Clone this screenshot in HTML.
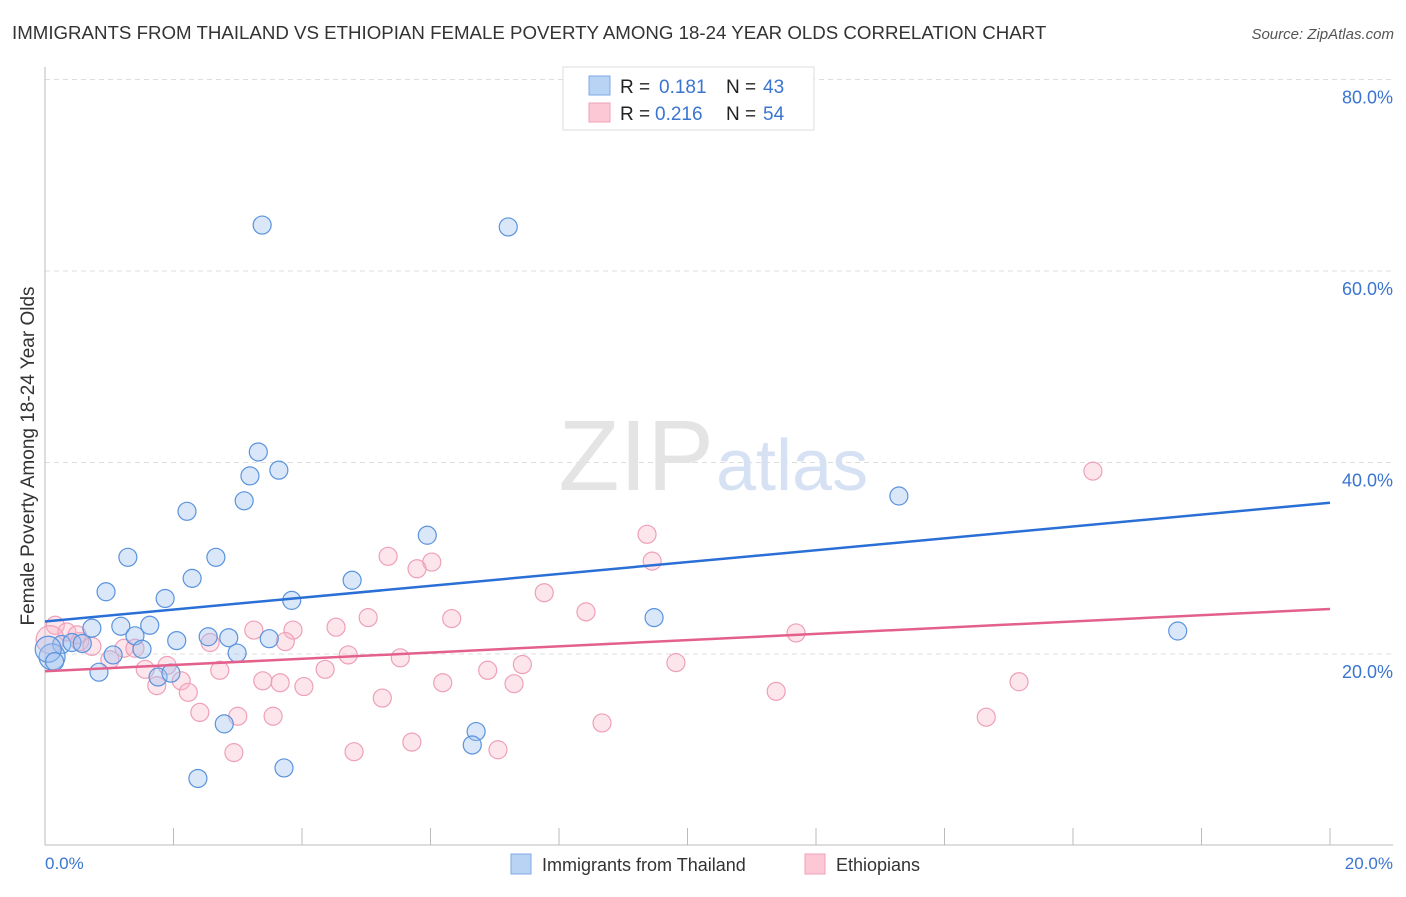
<!DOCTYPE html>
<html><head><meta charset="utf-8">
<style>
body{margin:0;background:#fff;font-family:"Liberation Sans",sans-serif;}
svg text{font-family:"Liberation Sans",sans-serif;}
</style></head>
<body>
<svg id="chart" width="1406" height="892" xmlns="http://www.w3.org/2000/svg">
<text x="12" y="39" font-size="18.7" fill="#333">IMMIGRANTS FROM THAILAND VS ETHIOPIAN FEMALE POVERTY AMONG 18-24 YEAR OLDS CORRELATION CHART</text>
<text x="1394" y="39" font-size="15" fill="#555" font-style="italic" text-anchor="end">Source: ZipAtlas.com</text>
<g id="grid"></g>
<text x="714" y="490" font-size="100" fill="#e4e4e4" text-anchor="end" font-family="Liberation Serif">ZIP</text>
<text x="716" y="490" font-size="72" fill="#d6e2f4">atlas</text>
<line x1="45" y1="67" x2="45" y2="845" stroke="#bbb"/>
<line x1="45" y1="845" x2="1393" y2="845" stroke="#bbb"/>
<g id="ticks"></g>
<g id="pts"></g>
<g id="lines"></g>
<text x="34" y="456" font-size="19" fill="#333" text-anchor="middle" transform="rotate(-90 34 456)">Female Poverty Among 18-24 Year Olds</text>
<text x="45" y="869" font-size="17" fill="#3a75d0">0.0%</text>
<text x="1393" y="869" font-size="17" fill="#3a75d0" text-anchor="end">20.0%</text>
<g>
<rect x="563" y="67" width="251" height="63" fill="#fff" stroke="#ddd"/>
<rect x="589" y="76" width="21" height="19" fill="#b9d3f5" stroke="#7eaae6"/>
<rect x="589" y="103" width="21" height="19" fill="#fcc8d6" stroke="#f0a0b8"/>
<text x="620" y="93" font-size="19" fill="#222">R = </text><text x="659" y="93" font-size="19" fill="#3a75d0">0.181</text>
<text x="726" y="93" font-size="19" fill="#222">N = </text><text x="763" y="93" font-size="19" fill="#3a75d0">43</text>
<text x="620" y="120" font-size="19" fill="#222">R = </text><text x="655" y="120" font-size="19" fill="#3a75d0">0.216</text>
<text x="726" y="120" font-size="19" fill="#222">N = </text><text x="763" y="120" font-size="19" fill="#3a75d0">54</text>
</g>
<g>
<rect x="511" y="854" width="20" height="20" fill="#b9d3f5" stroke="#7eaae6"/>
<text x="542" y="871" font-size="18" fill="#333">Immigrants from Thailand</text>
<rect x="805" y="854" width="20" height="20" fill="#fcc8d6" stroke="#f0a0b8"/>
<text x="836" y="871" font-size="18" fill="#333">Ethiopians</text>
</g>
</svg>
<script>
const yTicks=[20,40,60,80];
const blueX=[3.38,7.21,3.32,3.19,3.64,3.10,2.21,13.29,1.29,2.66,5.95,2.29,4.78,0.95,1.87,3.84,9.48,0.73,1.18,1.63,1.40,2.05,2.54,2.86,3.49,17.63,0.26,0.42,0.58,1.51,1.06,2.99,0.11,0.84,1.76,1.96,2.79,6.71,6.65,2.38,3.72,0.05,0.15];
const blueY=[64.8,64.6,41.1,38.6,39.2,36.0,34.9,36.5,30.1,30.1,32.4,27.9,27.7,26.5,25.8,25.6,23.8,22.7,22.9,23.0,21.9,21.4,21.8,21.7,21.6,22.4,21.0,21.2,21.1,20.5,19.9,20.1,19.7,18.1,17.6,18.0,12.7,11.9,10.5,7.0,8.1,20.5,19.2];
const pinkX=[16.31,9.37,5.34,6.02,5.79,9.45,7.77,8.42,6.33,5.03,4.53,3.86,3.25,11.69,0.16,0.34,0.54,0.73,2.57,3.74,1.23,1.40,4.72,5.53,7.43,9.82,1.56,1.90,4.36,6.89,2.72,2.12,3.39,3.66,1.74,4.03,6.19,7.30,15.16,2.23,5.25,11.38,2.41,3.00,3.55,8.67,14.65,2.94,4.81,5.71,7.05,1.01,0.08,0.5];
const pinkY=[39.1,32.5,30.2,29.6,28.9,29.7,26.4,24.4,23.7,23.8,22.8,22.5,22.5,22.2,23.0,22.3,21.3,20.8,21.2,21.3,20.6,20.6,19.9,19.6,18.9,19.1,18.4,18.8,18.4,18.3,18.3,17.2,17.2,17.0,16.7,16.6,17.0,16.9,17.1,16.0,15.4,16.1,13.9,13.5,13.5,12.8,13.4,9.7,9.8,10.8,10.0,19.4,21.5,22.0];
const blueBig=[32,41];
const pinkBig=[52];
const blueLine=[23.4,35.8];
const pinkLine=[18.2,24.7];
const xs=v=>45+v/20*1285;
const ys=v=>845.5-v/20*191.5;
const NS='http://www.w3.org/2000/svg';
function mk(t,a,p){const e=document.createElementNS(NS,t);for(const k in a)e.setAttribute(k,a[k]);p.appendChild(e);return e;}
const grid=document.getElementById('grid');
yTicks.forEach(t=>{
  const l=mk('line',{x1:45,x2:1393,y1:ys(t),y2:ys(t),stroke:'#ddd','stroke-dasharray':'5,4'},grid);
  
  
  const tx=mk('text',{x:1393,y:ys(t)+24,'font-size':18,fill:'#3a75d0','text-anchor':'end'},grid);
  tx.textContent=t.toFixed(1)+'%';
  
  
});
const ticks=document.getElementById('ticks');
for(let i=1;i<=10;i++){
  const l=mk('line',{x1:xs(i*2),x2:xs(i*2),y1:828,y2:845,stroke:'#bbb'},ticks);
  
  
}
const pts=document.getElementById('pts');
pinkX.forEach((x,i)=>{
  const c=mk('circle',{cx:xs(x),cy:ys(pinkY[i]),r:pinkBig.includes(i)?14:9,fill:'rgba(248,180,200,0.35)',stroke:'#eea0b8','stroke-width':1.2},pts);
  
  
});
blueX.forEach((x,i)=>{
  const c=mk('circle',{cx:xs(x),cy:ys(blueY[i]),r:blueBig.includes(i)?13:9,fill:'rgba(160,196,240,0.4)',stroke:'#5a93dd','stroke-width':1.2},pts);
  
  
});
const lines=document.getElementById('lines');
const bl=mk('line',{x1:xs(0),x2:xs(20),y1:ys(blueLine[0]),y2:ys(blueLine[1]),stroke:'#2a6fd6','stroke-width':2.5},lines);


const pl=mk('line',{x1:xs(0),x2:xs(20),y1:ys(pinkLine[0]),y2:ys(pinkLine[1]),stroke:'#e4608c','stroke-width':2.5},lines);


</script>
</body></html>
